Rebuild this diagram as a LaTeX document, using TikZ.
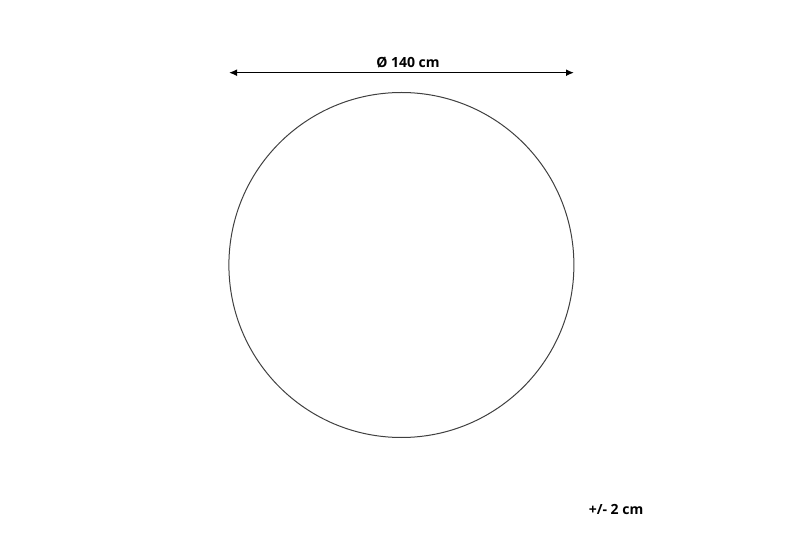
\documentclass[tikz,border=0pt]{standalone}
\usepackage{fontspec}
\setmainfont{Open Sans}
\usetikzlibrary{arrows.meta}
\tikzset{
  dimlabel/.style={font=\fontsize{14}{16}\selectfont\bfseries, inner sep=0pt},
  dimline/.style={{Latex[length=8pt,width=7pt]}-{Latex[length=8pt,width=7pt]}, line width=1.5pt}
}
\begin{document}
\begin{tikzpicture}[x=1pt, y=1pt]
    \useasboundingbox (0,0) rectangle (800,533);

    % The round rug
    \node[circle, draw=black!75, line width=1pt, minimum size=345pt, inner sep=0pt] (rug) at (401.4,268) {};

    % Diameter dimension
    \coordinate (dimL) at (229,460.3);
    \coordinate (dimR) at (574,460.3);
    \draw[dimline] (dimL) -- (dimR);
    \node[dimlabel] (diam) at (408,470.5) {Ø 140 cm};

    % Tolerance
    \node[dimlabel] (tol) at (616,24) {+/- 2 cm};
\end{tikzpicture}
\end{document}
